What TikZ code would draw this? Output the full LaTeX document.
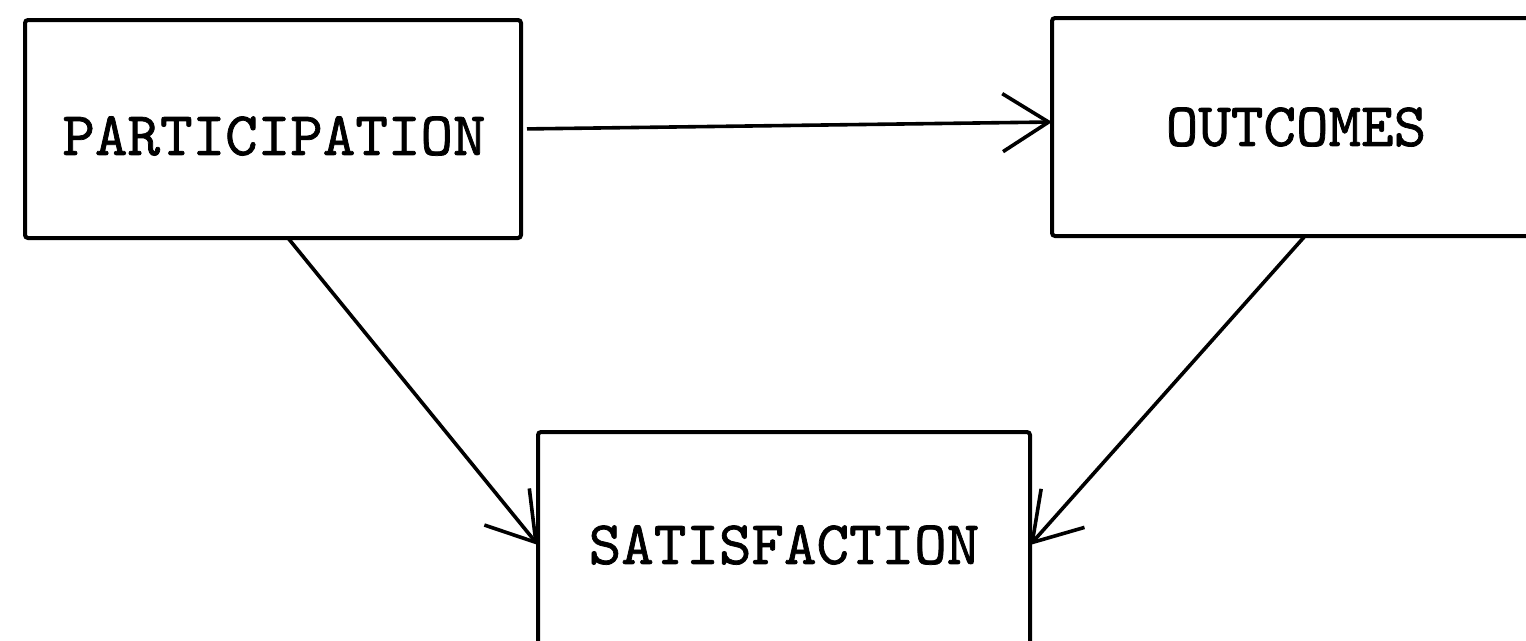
\documentclass[tikz,border=0pt]{standalone}
\usepackage{fontspec}
\usetikzlibrary{arrows.meta,calc}
\newfontfamily\typewfont{lmmono10-regular.otf}[FakeBold=1.2]
\newcommand\boxtext{\typewfont\fontsize{62}{70}\selectfont}
\begin{document}
\begin{tikzpicture}[x=1pt,y=-1pt,
  box/.style={draw,line width=4pt,rounded corners=3pt,inner sep=0pt,outer sep=0pt,
    font=\boxtext},
  link/.style={line width=3.6pt,-{Straight Barb[length=46pt,width=58pt,line width=3.6pt]}}]
  \useasboundingbox (0,0) rectangle (1526,640);
  \clip (0,0) rectangle (1526,640);
  \fill[white] (0,0) rectangle (1526,640);

  % the three boxes
  \node[box,minimum width=496pt,minimum height=218pt] (part) at (273,129) {};
  \node[font=\boxtext] (parttext) at (274,136) {PARTICIPATION};
  \node[box,minimum width=488pt,minimum height=218pt] (out) at (1296,127) {OUTCOMES};
  \node[box,minimum width=492pt,minimum height=226pt] (sat) at (784,545) {SATISFACTION};

  % causal links
  \draw[link,shorten <=6pt] (part.east) -- ([yshift=5pt]out.west);
  \draw[link] ([xshift=15pt]part.south) -- (sat.west);
  \draw[link] ([xshift=9pt]out.south) -- (sat.east);
\end{tikzpicture}
\end{document}
